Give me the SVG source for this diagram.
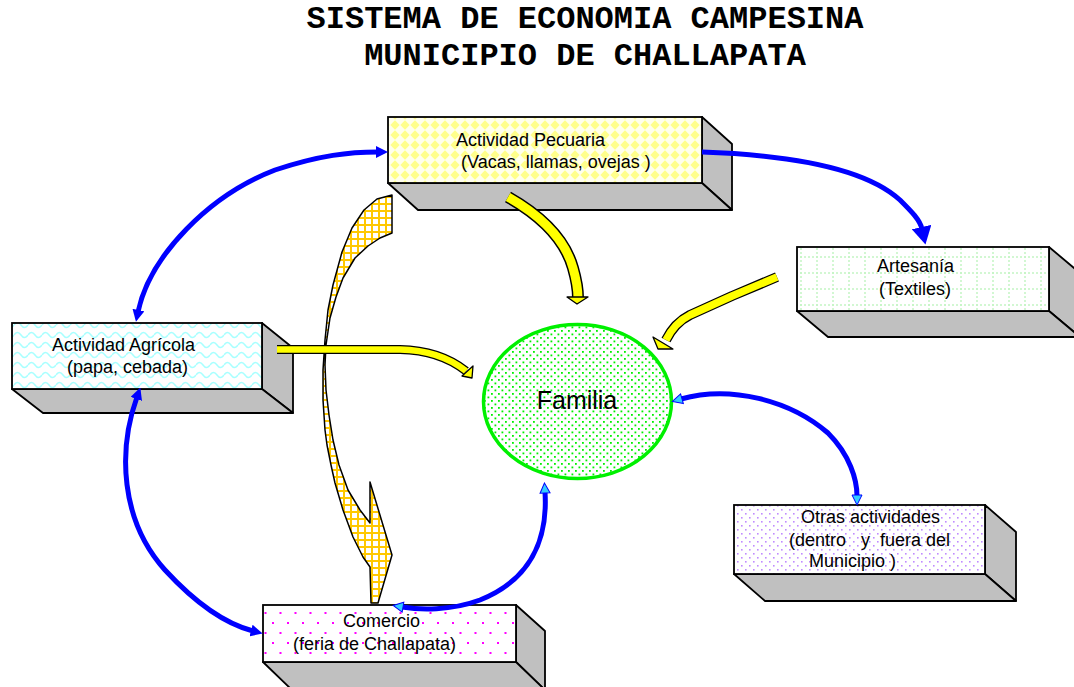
<svg xmlns="http://www.w3.org/2000/svg" width="1074" height="687" viewBox="0 0 1074 687">
<style>
.title{font-family:"Liberation Mono","Courier New",monospace;font-weight:bold;font-size:32px;fill:#000;text-anchor:middle}
.lbl{font-family:"Liberation Sans",Arial,sans-serif;font-size:18px;fill:#000}
.front{stroke:#000;stroke-width:1.8}
.side{fill:#c0c0c0;stroke:#000;stroke-width:1.8;stroke-linejoin:round}
.blue{fill:none;stroke:#0000ff;stroke-width:5;stroke-linecap:butt;stroke-linejoin:round}
.yout{fill:none;stroke:#000;stroke-linejoin:round}
.yin{fill:none;stroke:#ffff00;stroke-linejoin:round}
.yhead{fill:#ffff00;stroke:#000;stroke-width:1.3;stroke-linejoin:round}
</style>
<defs>
<pattern id="pDiam" width="10" height="10" patternUnits="userSpaceOnUse">
<rect width="10" height="10" fill="#ffffee"/>
<polygon points="5,0.3 9.7,5 5,9.7 0.3,5" fill="#ffff8c"/>
</pattern>
<pattern id="pWave" width="14" height="10" patternUnits="userSpaceOnUse">
<rect width="14" height="10" fill="#fff"/>
<path d="M0,5 Q3.5,0 7,5 Q10.5,10 14,5" fill="none" stroke="#a8ffff" stroke-width="1.5"/>
</pattern>
<pattern id="pGrid" width="16" height="16" patternUnits="userSpaceOnUse">
<rect width="16" height="16" fill="#fff"/>
<path d="M0,1 H16 M1,0 V16" stroke="#c4f5c4" stroke-width="1.5" stroke-dasharray="2,2"/>
</pattern>
<pattern id="pPurple" width="8" height="8" patternUnits="userSpaceOnUse">
<rect width="8" height="8" fill="#fff"/>
<rect x="1" y="1" width="1.6" height="1.6" fill="#c08cff"/>
<rect x="5" y="5" width="1.6" height="1.6" fill="#c08cff"/>
</pattern>
<pattern id="pMag" width="15" height="20" patternUnits="userSpaceOnUse">
<rect width="15" height="20" fill="#fff"/>
<rect x="2" y="2" width="2" height="2" fill="#ff00ff"/>
<rect x="9.5" y="12" width="2" height="2" fill="#ff00ff"/>
</pattern>
<pattern id="pGreen" width="7" height="7" patternUnits="userSpaceOnUse">
<rect width="7" height="7" fill="#fff"/>
<rect x="1" y="1" width="1.8" height="1.8" fill="#00f000"/>
<rect x="4.5" y="4.5" width="1.8" height="1.8" fill="#00f000"/>
</pattern>
<pattern id="pOrange" width="7" height="7" patternUnits="userSpaceOnUse">
<rect width="7" height="7" fill="#fff"/>
<path d="M0,1 H7 M1,0 V7" stroke="#ffc800" stroke-width="2"/>
</pattern>
<marker id="bh" viewBox="0 0 12 12" markerWidth="12" markerHeight="12" markerUnits="userSpaceOnUse" refX="2" refY="6" orient="auto-start-reverse">
<path d="M0,0 L12,6 L0,12 z" fill="#0000ff"/>
</marker>
<marker id="bhl" viewBox="0 0 18 20" markerWidth="18" markerHeight="20" markerUnits="userSpaceOnUse" refX="2" refY="10" orient="auto">
<path d="M0,0 L18,10 L0,20 z" fill="#0000ff"/>
</marker>
<marker id="ch" viewBox="-1 -1 12 12" markerWidth="12" markerHeight="12" markerUnits="userSpaceOnUse" refX="1" refY="5" orient="auto-start-reverse">
<path d="M0,0 L10,5 L0,10 z" fill="#33ccff" stroke="#0000ff" stroke-width="1"/>
</marker>
</defs>

<rect width="1074" height="687" fill="#fff"/>

<g id="title">
<text class="title" x="585" y="28">SISTEMA DE ECONOMIA CAMPESINA</text>
<text class="title" x="585" y="65">MUNICIPIO DE CHALLAPATA</text>
</g>

<g id="pecuaria">
<polygon class="side" points="702,117 732,144 732,210 702,183"/>
<polygon class="side" points="388,183 702,183 732,210 418,210"/>
<rect class="front" x="388" y="117" width="314" height="66" fill="url(#pDiam)"/>
<text class="lbl" x="456" y="146">Actividad Pecuaria</text>
<text class="lbl" x="461" y="168" xml:space="preserve">(Vacas, llamas, ovejas )</text>
</g>

<g id="agricola">
<polygon class="side" points="262,323 293,348 293,413 262,389"/>
<polygon class="side" points="12,389 262,389 293,413 43,413"/>
<rect class="front" x="12" y="323" width="250" height="66" fill="url(#pWave)"/>
<text class="lbl" x="52" y="351">Actividad Agrícola</text>
<text class="lbl" x="67" y="373">(papa, cebada)</text>
</g>

<g id="artesania">
<polygon class="side" points="1049,247 1080,273 1080,337 1049,311"/>
<polygon class="side" points="797,311 1049,311 1080,337 828,337"/>
<rect class="front" x="797" y="247" width="252" height="64" fill="url(#pGrid)"/>
<text class="lbl" x="877" y="272">Artesanía</text>
<text class="lbl" x="879" y="295">(Textiles)</text>
</g>

<g id="otras">
<polygon class="side" points="985,505 1016,532 1016,601 985,574"/>
<polygon class="side" points="734,574 985,574 1016,601 765,601"/>
<rect class="front" x="734" y="505" width="251" height="69" fill="url(#pPurple)"/>
<text class="lbl" x="801" y="523">Otras actividades</text>
<text class="lbl" x="789" y="546" xml:space="preserve">(dentro   y  fuera del</text>
<text class="lbl" x="809" y="567" xml:space="preserve">Municipio )</text>
</g>

<g id="comercio">
<polygon class="side" points="516,605 545,631 545,690 516,662"/>
<polygon class="side" points="263,662 516,662 545,690 292,690"/>
<rect class="front" x="263" y="605" width="253" height="57" fill="url(#pMag)"/>
<text class="lbl" x="343" y="627">Comercio</text>
<text class="lbl" x="293" y="650">(feria de Challapata)</text>
</g>

<g id="familia">
<ellipse cx="577.5" cy="401.5" rx="94" ry="77" fill="url(#pGreen)" stroke="#00f000" stroke-width="3.5"/>
<text x="577" y="409" font-family="'Liberation Sans',Arial,sans-serif" font-size="25" text-anchor="middle" fill="#000">Familia</text>
</g>

<g id="connectors">
<polygon points="392,195 377,199 364,210 352,228 342,252 333,285 328,310 325,340 323,370 323,400 325,430 327,445 331,465 335,483 343,510 353,537 363,557 370,567 371,603 378,603 392,555 370,482 370,523 360,510 348,490 339,465 333,440 329,415 326,390 325,365 326,345 330,318 336,297 343,278 355,258 368,246 380,238 392,233" fill="url(#pOrange)" stroke="#000" stroke-width="1.5" stroke-linejoin="round"/>

<path class="yout" stroke-width="12" d="M508,197 C545,218 566,243 573,268 C577,282 578,290 578,298"/>
<path class="yin" stroke-width="9" d="M508,197 C545,218 566,243 573,268 C577,282 578,290 578,298"/>
<polygon class="yhead" points="567,297 588,297 577,304"/>

<path class="yout" stroke-width="10" d="M777,277 L732,296 L690,315 C680,320 671,330 666,340"/>
<path class="yin" stroke-width="7.5" d="M777,277 L732,296 L690,315 C680,320 671,330 666,340"/>
<polygon class="yhead" points="653,337 673,349 658,349"/>

<path class="yout" stroke-width="9" d="M277,349.5 L400,349.5 C430,350 452,360 466,371"/>
<path class="yin" stroke-width="6.5" d="M277,349.5 L400,349.5 C430,350 452,360 466,371"/>
<polygon class="yhead" points="462,376 473,366 472,378"/>

<path class="blue" d="M138,312 C150,255 210,195 275,170 C320,155 350,152 378,152" marker-start="url(#bh)" marker-end="url(#bh)"/>
<path class="blue" d="M137,397 C118,450 120,520 165,570 C200,608 230,625 253,631" marker-start="url(#bh)" marker-end="url(#bh)"/>
<path class="blue" d="M702,152 C790,155 865,168 900,200 C912,212 920,220 922,229" marker-end="url(#bhl)"/>
<path class="blue" d="M681,399 C730,385 790,400 828,433 C850,455 857,480 857,496" marker-start="url(#ch)" marker-end="url(#ch)"/>
<path class="blue" d="M545,492 C548,540 530,580 480,600 C450,611 420,610 402,607" marker-start="url(#ch)" marker-end="url(#ch)"/>
</g>
</svg>
